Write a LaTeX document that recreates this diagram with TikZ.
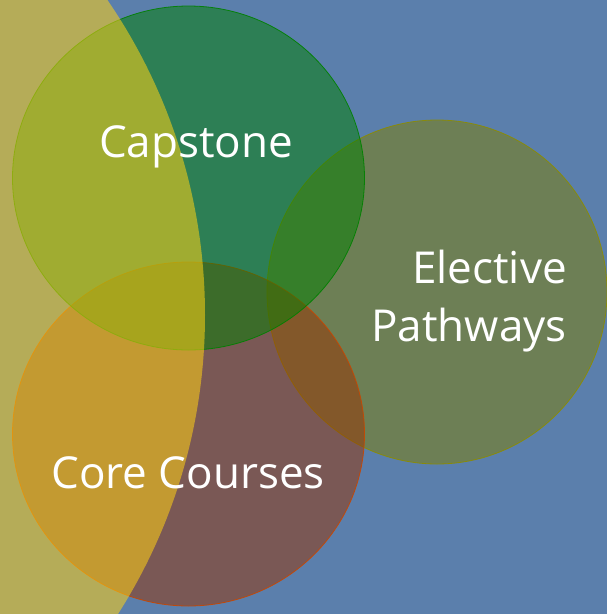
\documentclass[tikz,border=0pt]{standalone}
\usepackage{fontspec}
\setmainfont{Open Sans}
\definecolor{bgblue}{RGB}{91,127,172}
\definecolor{goldy}{RGB}{255,210,20}
\definecolor{capfill}{RGB}{0,128,0}
\definecolor{corefill}{RGB}{153,51,0}
\definecolor{corelin}{RGB}{200,70,0}
\definecolor{elefill}{RGB}{128,128,0}
\definecolor{elelin}{RGB}{140,140,0}
\tikzset{
  venn/.style={fill opacity=0.5, draw opacity=0.9, line width=0.8pt},
  lbl/.style={text=white, font=\fontsize{44}{50}\selectfont, inner sep=0pt}
}
\begin{document}
\begin{tikzpicture}[x=1pt,y=-1pt]
\useasboundingbox (0,0) rectangle (607,614);
\fill[bgblue] (0,0) rectangle (607,614);
\begin{scope}
\clip (0,0) rectangle (607,614);
\fill[venn, elefill, draw=elelin] (437,292) ellipse [x radius=170, y radius=172];
\fill[venn, corefill, draw=corelin] (188.5,434) ellipse [x radius=176, y radius=172];
\fill[venn, capfill, draw=capfill] (188.5,178) ellipse [x radius=176, y radius=172];
\fill[goldy, fill opacity=0.55] (-352,315) circle [radius=557];
\end{scope}
\node[lbl, anchor=base] (cap) at (196,157) {Capstone};
\node[lbl, anchor=base] (core) at (188,488) {Core Courses};
\node[lbl, anchor=base east] (ele1) at (567,283) {Elective};
\node[lbl, anchor=base east] (ele2) at (567,341) {Pathways};
\end{tikzpicture}
\end{document}
